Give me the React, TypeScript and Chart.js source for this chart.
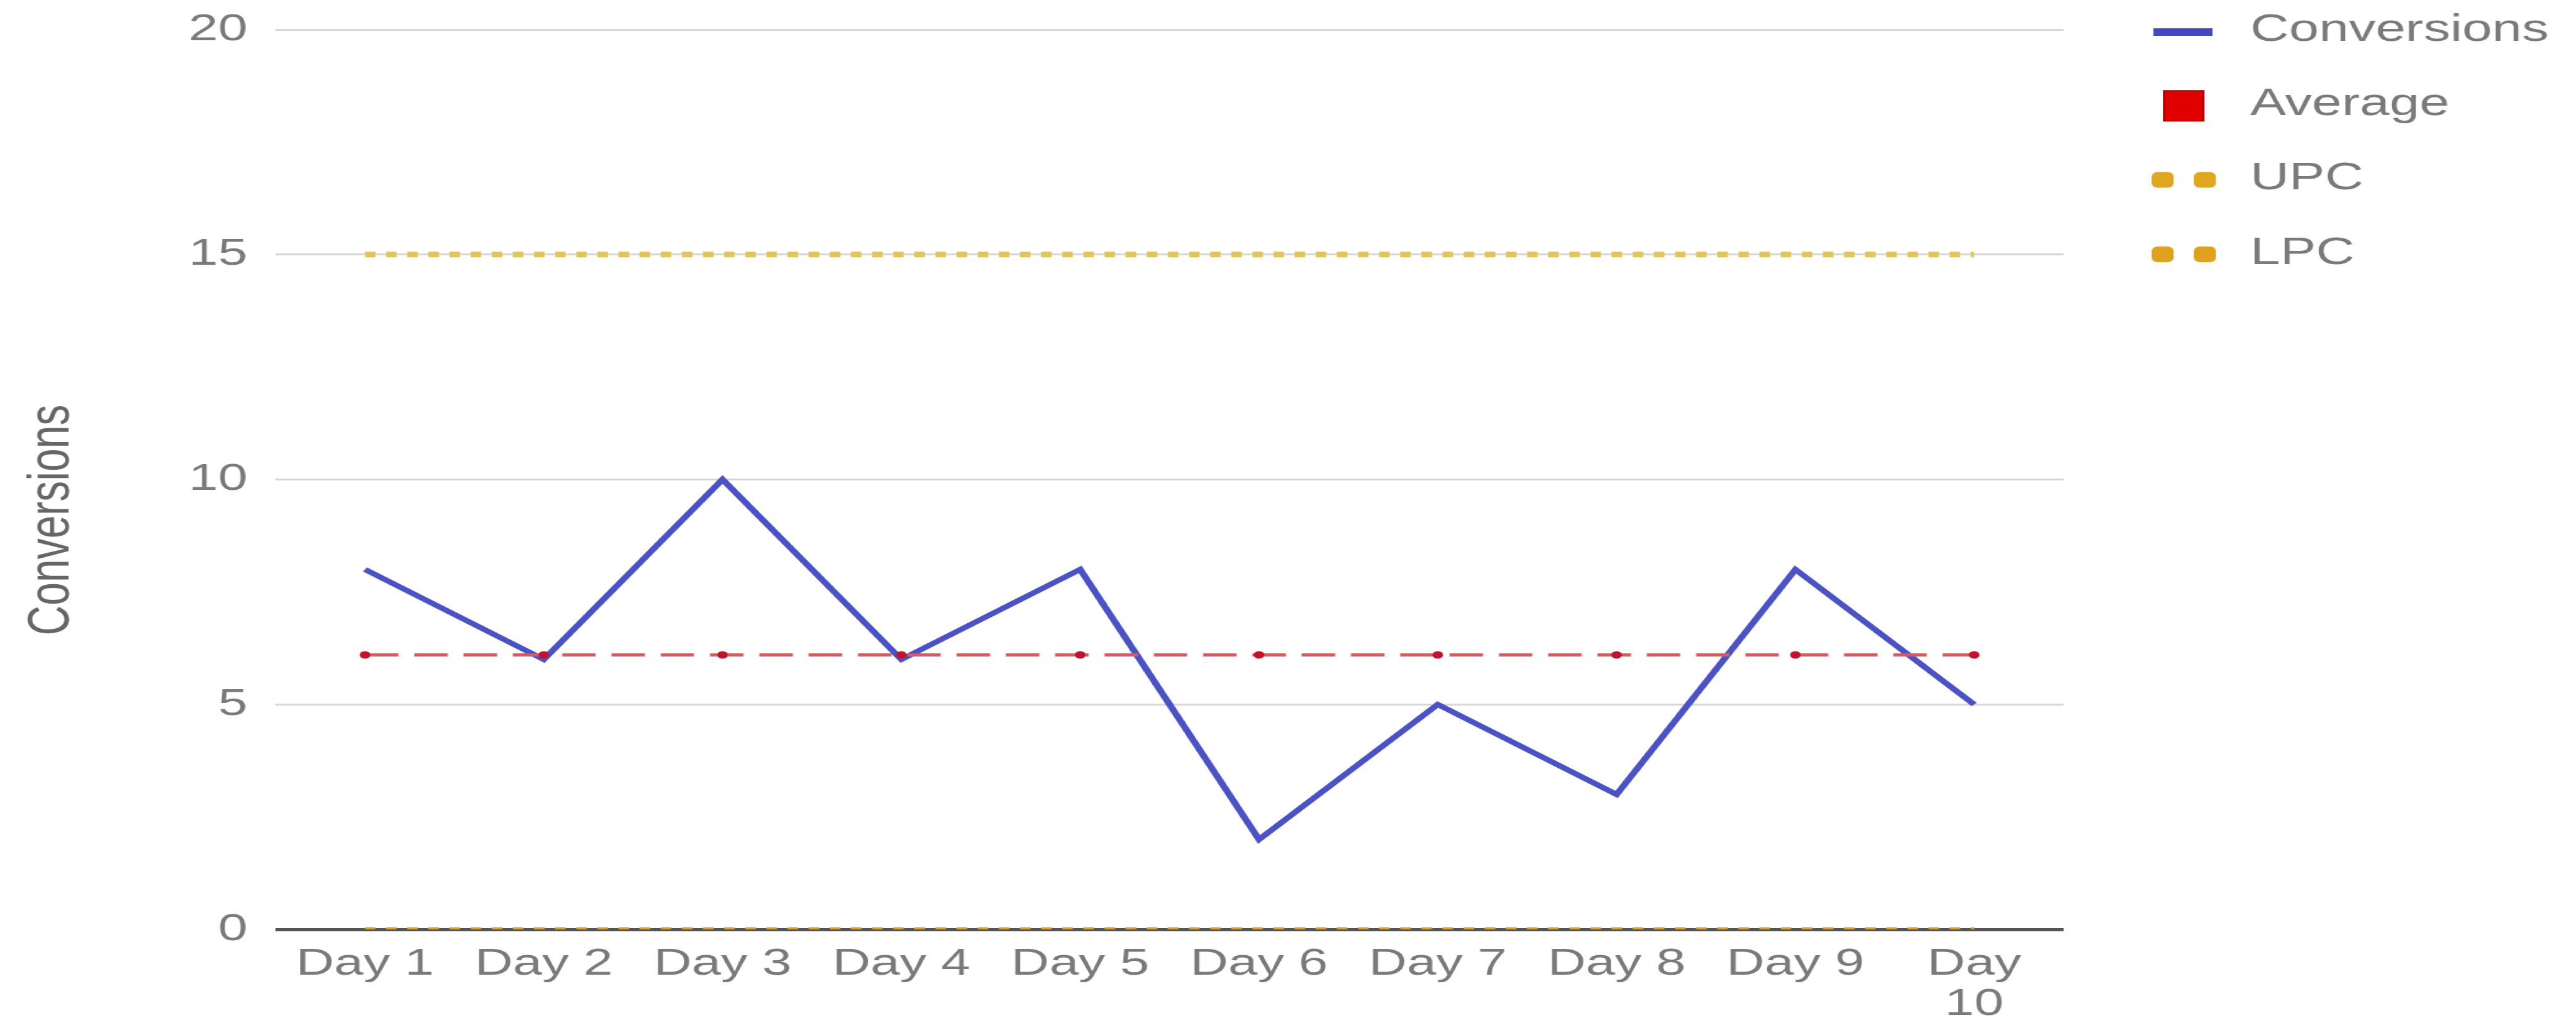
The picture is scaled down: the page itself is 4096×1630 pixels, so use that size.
import React, { useEffect, useRef } from 'react';
import { Chart, registerables } from 'chart.js';

Chart.register(...registerables);

// Daily conversions with their control lines.
const days: (string | string[])[] = [
  'Day 1', 'Day 2', 'Day 3', 'Day 4', 'Day 5',
  'Day 6', 'Day 7', 'Day 8', 'Day 9', ['Day', '10'],
];
const conversions = [8, 6, 10, 6, 8, 2, 5, 3, 8, 5];
const averageLine = [6.1, 6.1, 6.1, 6.1, 6.1, 6.1, 6.1, 6.1, 6.1, 6.1];
const upcLine = [15, 15, 15, 15, 15, 15, 15, 15, 15, 15];
const lpcLine = [0, 0, 0, 0, 0, 0, 0, 0, 0, 0];
const yTickValues = [0, 5, 10, 15, 20];

// The canvas is drawn narrow and widened with a CSS transform.
const CANVAS_W = 2926;
const CANVAS_H = 1630;
const STRETCH = 4096 / CANVAS_W;

const FONT = '"Liberation Sans", Arial, Helvetica, sans-serif';
const TEXT_GRAY = '#7a7a7a';

// Legend down the right-hand side plus the rotated y-axis title.
const sideLegend = {
  id: 'sideLegend',
  afterDraw(chart: any) {
    const { ctx, chartArea } = chart;
    const base = chartArea.right;
    const firstY = chartArea.top + 1;
    const step = 118.3;

    ctx.save();
    chart.data.datasets.forEach((ds: any, i: number) => {
      const y = firstY + i * step;
      const color = ds.legendColor || ds.borderColor;
      if (ds.legendMarker === 'line') {
        ctx.strokeStyle = color;
        ctx.lineWidth = 12;
        ctx.lineCap = 'butt';
        ctx.beginPath();
        ctx.moveTo(base + 102, y + 3);
        ctx.lineTo(base + 169, y + 3);
        ctx.stroke();
      } else if (ds.legendMarker === 'square') {
        ctx.fillStyle = color;
        ctx.fillRect(base + 114, y - 22, 45, 48);
        ctx.strokeStyle = '#a80000';
        ctx.lineWidth = 2;
        ctx.strokeRect(base + 114, y - 22, 45, 48);
      } else {
        ctx.fillStyle = color;
        [100, 148].forEach((dx) => {
          ctx.beginPath();
          ctx.roundRect(base + dx, y - 11, 25, 25, 7);
          ctx.fill();
        });
      }
      ctx.fillStyle = TEXT_GRAY;
      ctx.font = `61px ${FONT}`;
      ctx.textAlign = 'left';
      ctx.textBaseline = 'middle';
      ctx.fillText(ds.label, base + 212, y);
    });

    ctx.translate(60, 827);
    ctx.rotate(-Math.PI / 2);
    ctx.fillStyle = '#666666';
    ctx.font = `66px ${FONT}`;
    ctx.textAlign = 'center';
    ctx.textBaseline = 'middle';
    ctx.fillText('Conversions', 0, 0);
    ctx.restore();
  },
};

export default function App() {
  const canvasRef = useRef<HTMLCanvasElement>(null);

  useEffect(() => {
    document.body.style.margin = '0';
    document.body.style.overflow = 'hidden';
    const canvas = canvasRef.current;
    if (!canvas) return;

    const chart = new Chart(canvas, {
      type: 'line',
      data: {
        labels: days,
        datasets: [
          {
            label: 'Conversions',
            data: conversions,
            borderColor: '#4b52c4',
            borderWidth: 8,
            pointRadius: 0,
            tension: 0,
            order: 1,
            legendMarker: 'line',
            legendColor: '#4247c2',
          } as any,
          {
            label: 'Average',
            data: averageLine,
            borderColor: '#e2555f',
            backgroundColor: '#e00000',
            borderWidth: 5,
            borderDash: [38, 18],
            pointRadius: 6,
            pointBackgroundColor: '#c0142c',
            pointBorderWidth: 0,
            order: 0,
            legendMarker: 'square',
            legendColor: '#e00000',
          } as any,
          {
            label: 'UPC',
            data: upcLine,
            borderColor: '#e2c45c',
            borderWidth: 9,
            borderDash: [12, 12],
            pointRadius: 0,
            order: 2,
            legendMarker: 'dots',
            legendColor: '#e0a820',
          } as any,
          {
            label: 'LPC',
            data: lpcLine,
            borderColor: '#e0a020',
            borderWidth: 7,
            borderDash: [12, 12],
            pointRadius: 0,
            order: 3,
            legendMarker: 'dots',
            legendColor: '#e0a020',
          } as any,
        ],
      },
      options: {
        responsive: false,
        maintainAspectRatio: false,
        animation: false,
        devicePixelRatio: 1,
        layout: { padding: { top: 47, right: 582, bottom: 0, left: 0 } },
        plugins: {
          legend: { display: false },
          tooltip: { enabled: false },
        },
        scales: {
          x: {
            type: 'category',
            offset: true,
            grid: { display: false, drawTicks: false },
            border: { display: false },
            ticks: {
              color: TEXT_GRAY,
              font: { family: FONT, size: 60, lineHeight: 1.07 },
              padding: 23,
              maxRotation: 0,
              minRotation: 0,
              autoSkip: false,
            },
            afterFit: (scale: any) => {
              scale.height = 152;
            },
          },
          y: {
            min: 0,
            max: 20,
            border: { display: false },
            grid: {
              drawTicks: false,
              color: (c: any) => (c.tick && c.tick.value === 0 ? '#555555' : '#d8d8d8'),
              lineWidth: (c: any) => (c.tick && c.tick.value === 0 ? 5 : 3),
            },
            ticks: {
              color: TEXT_GRAY,
              font: { family: FONT, size: 60 },
              padding: 32,
            },
            afterBuildTicks: (scale: any) => {
              scale.ticks = yTickValues.map((v) => ({ value: v }));
            },
            afterFit: (scale: any) => {
              scale.width = 313;
              scale.paddingTop = 0;
              scale.paddingBottom = 0;
            },
          },
        },
      },
      plugins: [sideLegend],
    });

    return () => chart.destroy();
  }, []);

  return (
    <div
      style={{
        width: CANVAS_W,
        height: CANVAS_H,
        transform: `scaleX(${STRETCH})`,
        transformOrigin: '0 0',
        background: '#ffffff',
      }}
    >
      <canvas
        ref={canvasRef}
        width={CANVAS_W}
        height={CANVAS_H}
        style={{ display: 'block', width: CANVAS_W, height: CANVAS_H }}
      />
    </div>
  );
}
